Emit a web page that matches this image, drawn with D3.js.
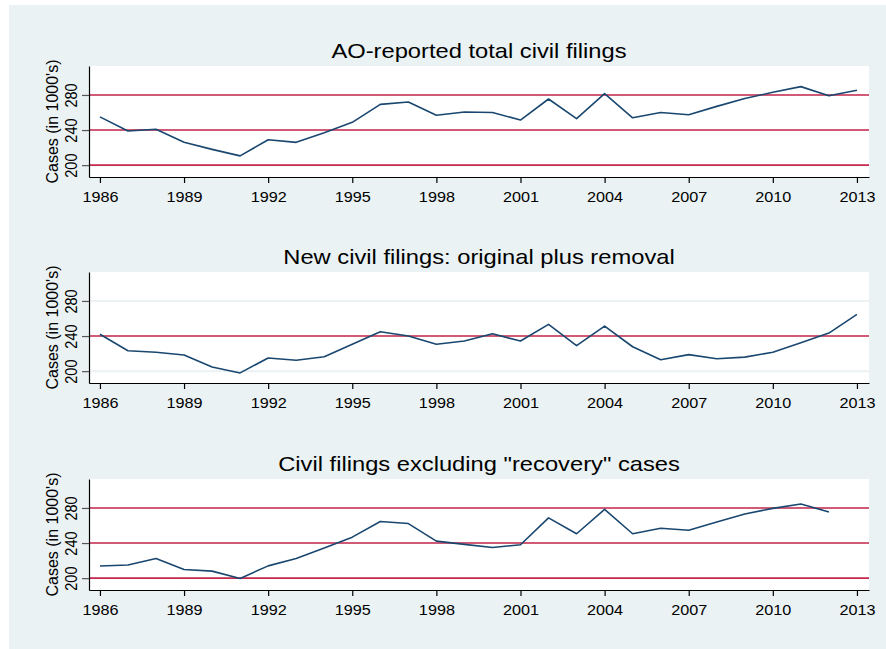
<!DOCTYPE html>
<html>
<head>
<meta charset="utf-8">
<script src="https://cdn.jsdelivr.net/npm/d3@7"></script>
<style>
  body { margin: 0; background: #fff; }
  text { font-family: "Liberation Sans", Arial, sans-serif; fill: #000; }
</style>
</head>
<body>
<script>
// yearly values, thousands of cases
const years = [1986, 1987, 1988, 1989, 1990, 1991, 1992, 1993, 1994, 1995,
               1996, 1997, 1998, 1999, 2000, 2001, 2002, 2003, 2004, 2005,
               2006, 2007, 2008, 2009, 2010, 2011, 2012, 2013];

const totalFilings = [255, 239, 241, 226, 218, 210.6, 229, 226, 237, 248.8,
                      269.3, 272, 256.8, 260.6, 260, 251.4, 275.4, 253, 281.5, 254,
                      260, 257.5, 267, 276, 283, 289.5, 279, 285.4];

const newFilings = [242, 223.3, 221.5, 218.4, 204.8, 198, 215, 212.4, 216.5, 230.6,
                    245, 240, 230.6, 234.3, 242.6, 234.3, 253.3, 229, 251.4, 227.8,
                    213, 218.8, 214.2, 216, 221.5, 232.4, 243.4, 264.7];

const exclRecovery = [213.9, 215, 222.3, 209.8, 208, 199.7, 214, 222.3, 234.3, 246.7,
                      264.5, 262.2, 242.2, 238.5, 235, 238.1, 268.7, 250.6, 278.4, 250.6,
                      256.9, 254.6, 264.1, 273.2, 279.5, 284.5, 275.5, null];

const titles = [
  'AO-reported total civil filings',
  'New civil filings: original plus removal',
  'Civil filings excluding "recovery" cases'
];

const yTicks = [200, 240, 280];
const xTicks = [1986, 1989, 1992, 1995, 1998, 2001, 2004, 2007, 2010, 2013];
const yLabel = 'Cases (in 1000\'s)';

const W = 886, H = 649;
const left = 89, right = 869, plotH = 111;

const bg    = '#EAF2F3';
const navy  = '#1A476F';
const red   = '#C9284E';

const panels = [
  { title: titles[0], values: totalFilings, red: [200, 240, 280], top: 66 },
  { title: titles[1], values: newFilings,   red: [240],           top: 272 },
  { title: titles[2], values: exclRecovery, red: [200, 240, 280], top: 479 }
];

const svg = d3.select('body').append('svg')
  .attr('width', W)
  .attr('height', H);

svg.append('rect')
  .attr('x', 9).attr('y', 5)
  .attr('width', W - 9).attr('height', H - 5)
  .attr('fill', bg);

const x = d3.scaleLinear().domain([1985.61, 2013.43]).range([left, right]);

panels.forEach((p) => {
  const bottom = p.top + plotH;
  const y = d3.scaleLinear().domain([186.5, 313]).range([bottom, p.top]);
  const g = svg.append('g');

  g.append('rect')
    .attr('x', left).attr('y', p.top)
    .attr('width', right - left).attr('height', plotH)
    .attr('fill', '#fff');

  g.selectAll('.grid').data(yTicks).enter().append('line')
    .attr('x1', left).attr('x2', right)
    .attr('y1', d => y(d)).attr('y2', d => y(d))
    .attr('stroke', bg).attr('stroke-width', 2);

  g.selectAll('.ref').data(p.red).enter().append('line')
    .attr('x1', left).attr('x2', right)
    .attr('y1', d => y(d)).attr('y2', d => y(d))
    .attr('stroke', red).attr('stroke-width', 1.6);

  const line = d3.line()
    .defined(d => d[1] != null)
    .x(d => x(d[0]))
    .y(d => y(d[1]));

  g.append('path')
    .datum(years.map((yr, i) => [yr, p.values[i]]))
    .attr('d', line)
    .attr('fill', 'none')
    .attr('stroke', navy)
    .attr('stroke-width', 1.6)
    .attr('stroke-linejoin', 'round');

  // y axis
  const ya = g.append('g')
    .attr('transform', 'translate(' + left + ',0)')
    .call(d3.axisLeft(y).tickValues(yTicks).tickSize(7).tickSizeOuter(0));
  ya.select('.domain').attr('stroke', '#000').attr('stroke-width', 1.2);
  ya.selectAll('.tick line').attr('stroke', '#555').attr('stroke-width', 1.2);
  ya.selectAll('.tick text')
    .attr('x', null).attr('dy', null)
    .attr('text-anchor', 'middle')
    .style('font-size', '14.5px')
    .attr('font-family', null)
    .attr('transform', 'translate(-12.3,0) scale(1.1,1) rotate(-90)');

  // x axis
  const xa = g.append('g')
    .attr('transform', 'translate(0,' + bottom + ')')
    .call(d3.axisBottom(x).tickValues(xTicks).tickFormat(d3.format('d')).tickSize(6).tickSizeOuter(0));
  xa.select('.domain').attr('stroke', '#000').attr('stroke-width', 1.2);
  xa.selectAll('.tick line').attr('stroke', '#000').attr('stroke-width', 1.2);
  xa.selectAll('.tick text')
    .attr('y', null).attr('dy', null)
    .style('font-size', '15px')
    .attr('transform', 'translate(0,25) scale(1.08,1)');
  xa.attr('font-family', null);
  ya.attr('font-family', null);

  g.append('text')
    .attr('transform', 'translate(58,' + (p.top + plotH / 2) + ') rotate(-90)')
    .attr('text-anchor', 'middle')
    .style('font-size', '16px')
    .text(yLabel);

  g.append('text')
    .attr('transform', 'translate(' + ((left + right) / 2) + ',' + (p.top - 8.5) + ') scale(1.13,1)')
    .attr('text-anchor', 'middle')
    .style('font-size', '21px')
    .text(p.title);
});
</script>
</body>
</html>
